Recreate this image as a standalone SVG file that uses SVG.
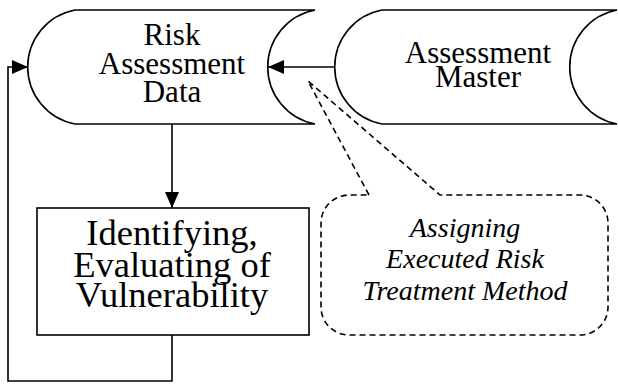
<svg xmlns="http://www.w3.org/2000/svg" width="618" height="385" viewBox="0 0 618 385">
<defs>
<style>
.shape{fill:#fff;stroke:#000;stroke-width:1.6}
.conn{fill:none;stroke:#000;stroke-width:1.6}
.dash{fill:#fff;stroke:#000;stroke-width:1.6;stroke-dasharray:6 4}
text{fill:#000;text-anchor:middle;font-family:'Liberation Serif','Times New Roman',Times,serif}
.n{font-size:31px}
.b{font-size:36.5px}
.i{font-size:28px;font-style:italic}
</style>
<marker id="ah" viewBox="0 0 16 14" refX="16" refY="7" markerWidth="16" markerHeight="14" markerUnits="userSpaceOnUse" orient="auto">
<path d="M0,0 L16,7 L0,14 Z" fill="#000"/>
</marker>
</defs>
<rect width="618" height="385" fill="#fff"/>
<g id="callout">
<path class="dash" d="M369,195 L308,81 L440,195 L580,195 A28,28 0 0 1 608,223 L608,307 A28,28 0 0 1 580,335 L349,335 A28,28 0 0 1 321,307 L321,223 A28,28 0 0 1 349,195 Z"/>
<text class="i" x="465" y="237">Assigning</text>
<text class="i" x="465" y="268">Executed Risk</text>
<text class="i" x="465" y="300">Treatment Method</text>
</g>
<g id="riskData">
<path class="shape" d="M75,10 L315,10 A58,58 0 0 0 315,124 L75,124 A58,58 0 0 1 75,10 Z"/>
<text class="n" x="172" y="45">Risk</text>
<text class="n" x="172" y="74">Assessment</text>
<text class="n" x="172" y="102">Data</text>
</g>
<g id="assessmentMaster">
<path class="shape" d="M382,10 L617,10 A58,58 0 0 0 617,124 L382,124 A58,58 0 0 1 382,10 Z"/>
<text class="n" x="478" y="63">Assessment</text>
<text class="n" x="478" y="87">Master</text>
</g>
<g id="identify">
<rect class="shape" x="37" y="208" width="272" height="127"/>
<text class="b" x="172" y="245">Identifying,</text>
<text class="b" x="172" y="277">Evaluating of</text>
<text class="b" x="172" y="307">Vulnerability</text>
</g>
<g id="connectors">
<line class="conn" x1="334" y1="67" x2="268" y2="67" marker-end="url(#ah)"/>
<line class="conn" x1="172" y1="124" x2="172" y2="208" marker-end="url(#ah)"/>
<polyline class="conn" points="172,335 172,381 8,381 8,67 28,67" marker-end="url(#ah)"/>
</g>
</svg>
